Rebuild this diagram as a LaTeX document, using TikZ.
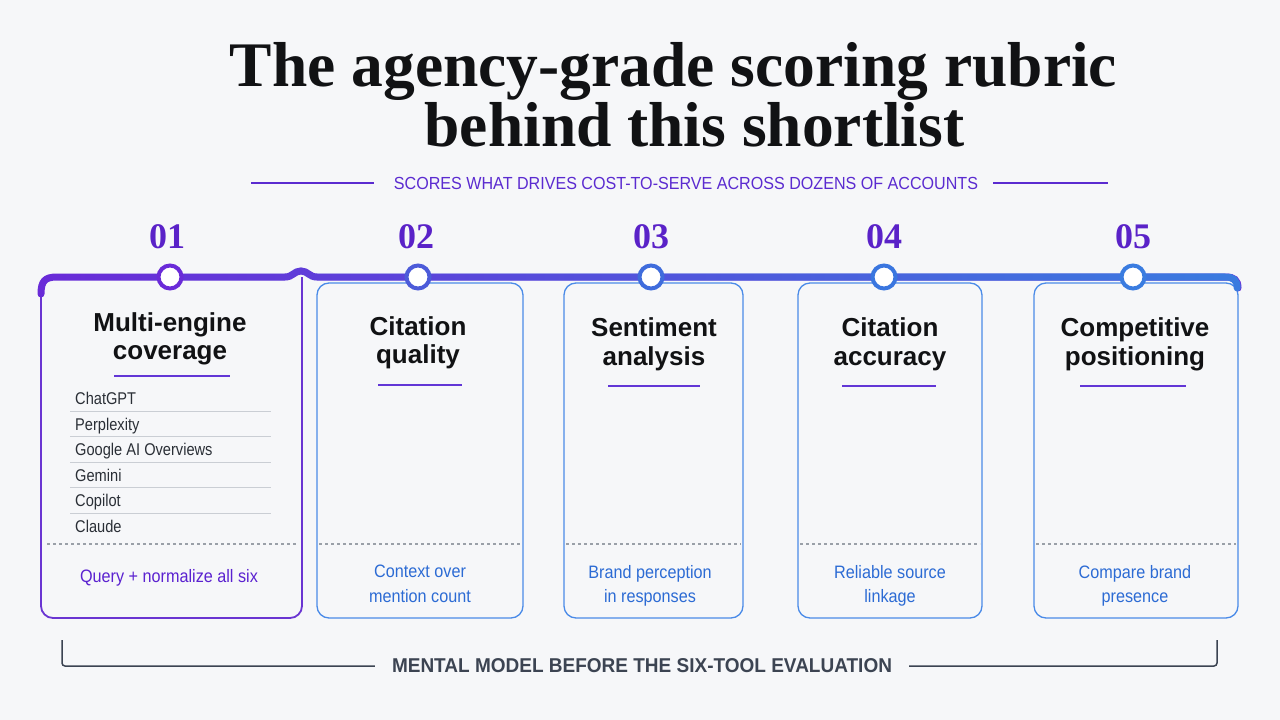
\documentclass[tikz,border=0pt]{standalone}
\usepackage{fontspec}
\setmainfont{Liberation Serif}
\setsansfont{Liberation Sans}
\newfontfamily\condf[FakeStretch=0.90]{Liberation Sans}
\newfontfamily\subf[FakeStretch=0.92]{Liberation Sans}
\newfontfamily\botf[FakeStretch=0.95]{Liberation Sans}
\newfontfamily\listf[FakeStretch=0.86]{Liberation Sans}
\usetikzlibrary{fadings}
\definecolor{bgc}{HTML}{F6F7F9}
\definecolor{ink}{HTML}{111214}
\definecolor{purp}{HTML}{5A22C8}
\definecolor{subc}{HTML}{5B2BD0}
\definecolor{tlpurp}{HTML}{6A2BD8}
\definecolor{tlblue}{HTML}{3A7CE0}
\definecolor{box1c}{HTML}{6A35D2}
\definecolor{boxblue}{HTML}{4A8BE8}
\definecolor{txtblue}{HTML}{2C6BD4}
\definecolor{txtpurp}{HTML}{5B22D0}
\definecolor{ulinec}{HTML}{6236D6}
\definecolor{sepc}{HTML}{CACED4}
\definecolor{dashc}{HTML}{9AA0A8}
\definecolor{darkc}{HTML}{3C4452}
\definecolor{listink}{HTML}{2A2F36}
\definecolor{cA}{HTML}{6A2BD8}
\definecolor{cB}{HTML}{4C5BD9}
\definecolor{cC}{HTML}{3F6CDC}
\definecolor{cD}{HTML}{3A76DF}
\definecolor{cE}{HTML}{3A7CE0}
\tikzfading[name=tlfade, left color=transparent!100, middle color=transparent!35, right color=transparent!0]
\begin{document}
\begin{tikzpicture}[x=1pt,y=-1pt,
  rtitle/.style={font=\bfseries\fontsize{63.5}{63.5}\selectfont, text=ink, anchor=base, inner sep=0},
  rsub/.style={font=\subf\fontsize{17.5}{18}\selectfont, text=subc, inner sep=0},
  rnum/.style={font=\bfseries\fontsize{36}{36}\selectfont, text=purp, inner sep=0},
  rdot/.style={circle, fill=white, line width=4, minimum size=23, inner sep=0},
  rhead/.style={font=\sffamily\bfseries\fontsize{26}{26}\selectfont, text=ink, anchor=base, inner sep=0},
  ritem/.style={font=\listf\fontsize{17}{17}\selectfont, text=listink, anchor=base west, inner sep=0},
  rnote/.style={font=\condf\fontsize{18}{18}\selectfont, text=txtblue, anchor=base, inner sep=0},
  rbox/.style={draw=boxblue, line width=1.3, rounded corners=12, inner sep=0},
  rline/.style={draw=ulinec, line width=2},
  rsep/.style={draw=sepc, line width=1},
  rdash/.style={draw=dashc, line width=1.2, dash pattern=on 3pt off 3pt},
  rtl/.style={line width=7, line cap=round},
  rbottom/.style={font=\botf\bfseries\fontsize{20}{20}\selectfont, text=darkc, inner sep=0},
]
\fill[bgc] (0,0) rectangle (1280,720);
\useasboundingbox (0,0) rectangle (1280,720);

% title
\node[rtitle] (t1) at (673.5,86) {The agency-grade scoring rubric};
\node[rtitle] (t2) at (694.5,146) {behind this shortlist};

% subtitle
\node[rsub] (sub) at (686,183) {SCORES WHAT DRIVES COST-TO-SERVE ACROSS DOZENS OF ACCOUNTS};
\draw[subc, line width=2] ([xshift=-20pt]sub.west) -- ++(-123,0);
\draw[subc, line width=2] ([xshift=15pt]sub.east) -- ++(115,0);

% numbers
\node[rnum] (n1) at (167,237) {01};
\node[rnum] (n2) at (416,237) {02};
\node[rnum] (n3) at (651,237) {03};
\node[rnum] (n4) at (884,237) {04};
\node[rnum] (n5) at (1133,237) {05};

% box 1
\draw[box1c, line width=1.8, rounded corners=12] (41,285) -- (41,618) -- (302,618) -- (302,277);
% boxes 2-5
\node[rbox, minimum width=206, minimum height=335] (b2) at (420,450.5) {};
\node[rbox, minimum width=179, minimum height=335] (b3) at (653.5,450.5) {};
\node[rbox, minimum width=184, minimum height=335] (b4) at (890,450.5) {};
\node[rbox, minimum width=204, minimum height=335] (b5) at (1136,450.5) {};

% timeline
\draw[rtl, tlpurp] (41,294) .. controls (41,281) and (45,277) .. (57,277) -- (285,277)
  .. controls (293,277) and (294,271) .. (301,271) .. controls (308,271) and (309,277) .. (317,277)
  -- (1226,277) .. controls (1234,277) and (1238,280) .. (1238,288);
\draw[rtl, tlblue, path fading=tlfade] (41,294) .. controls (41,281) and (45,277) .. (57,277) -- (285,277)
  .. controls (293,277) and (294,271) .. (301,271) .. controls (308,271) and (309,277) .. (317,277)
  -- (1226,277) .. controls (1234,277) and (1238,280) .. (1238,288);

% circles
\node[rdot, draw=cA] (c1) at (170,277) {};
\node[rdot, draw=cB] (c2) at (418,277) {};
\node[rdot, draw=cC] (c3) at (651,277) {};
\node[rdot, draw=cD] (c4) at (884,277) {};
\node[rdot, draw=cE] (c5) at (1133,277) {};

% headings
\node[rhead] (h1a) at (170,331) {Multi-engine};
\node[rhead] (h1b) at (170,359) {coverage};
\node[rhead] (h2a) at (418,335) {Citation};
\node[rhead] (h2b) at (418,363) {quality};
\node[rhead] (h3a) at (654,336) {Sentiment};
\node[rhead] (h3b) at (654,365) {analysis};
\node[rhead] (h4a) at (890,336) {Citation};
\node[rhead] (h4b) at (890,365) {accuracy};
\node[rhead] (h5a) at (1135,336) {Competitive};
\node[rhead] (h5b) at (1135,365) {positioning};

% underlines
\draw[rline] (114,376) -- (230,376);
\draw[rline] (378,385) -- (462,385);
\draw[rline] (608,386) -- (700,386);
\draw[rline] (842,386) -- (936,386);
\draw[rline] (1080,386) -- (1186,386);

% list
\node[ritem] (l1) at (75,404.5) {ChatGPT};
\node[ritem] (l2) at (75,430) {Perplexity};
\node[ritem] (l3) at (75,455.5) {Google AI Overviews};
\node[ritem] (l4) at (75,481) {Gemini};
\node[ritem] (l5) at (75,506.5) {Copilot};
\node[ritem] (l6) at (75,532) {Claude};
\foreach \yy in {411,436.5,462,487.5,513}{
  \draw[rsep] (70,\yy) -- (271,\yy);
}

% dashed separators
\draw[rdash] (47,544) -- (296,544);
\draw[rdash] (319,544) -- (521,544);
\draw[rdash] (566,544) -- (741,544);
\draw[rdash] (800,544) -- (980,544);
\draw[rdash] (1036,544) -- (1236,544);

% notes
\node[rnote, text=txtpurp] (q1) at (169,582) {Query + normalize all six};
\node[rnote] (q2a) at (420,577) {Context over};
\node[rnote] (q2b) at (420,602) {mention count};
\node[rnote] (q3a) at (650,578) {Brand perception};
\node[rnote] (q3b) at (650,602) {in responses};
\node[rnote] (q4a) at (890,578) {Reliable source};
\node[rnote] (q4b) at (890,602) {linkage};
\node[rnote] (q5a) at (1135,578) {Compare brand};
\node[rnote] (q5b) at (1135,602) {presence};

% bottom bracket
\node[rbottom] (bl) at (642,666) {MENTAL MODEL BEFORE THE SIX-TOOL EVALUATION};
\coordinate (bk1) at (62,640);
\coordinate (bk2) at (1217,640);
\draw[darkc, line width=1.5, rounded corners=3] ([xshift=-17pt]bl.west) -- (bl.west -| bk1) -- (bk1);
\draw[darkc, line width=1.5, rounded corners=3] ([xshift=17pt]bl.east) -- (bl.east -| bk2) -- (bk2);
\end{tikzpicture}
\end{document}
